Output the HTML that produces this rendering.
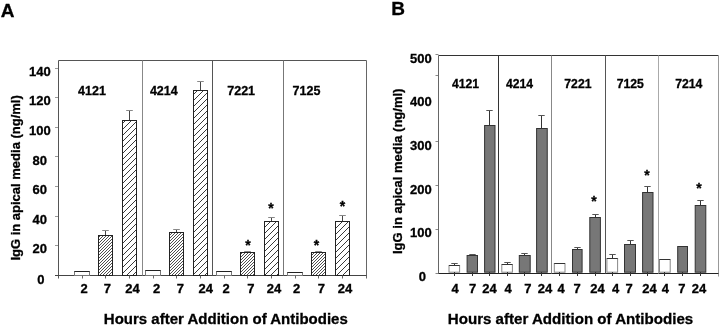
<!DOCTYPE html>
<html><head><meta charset="utf-8"><style>
html,body{margin:0;padding:0;background:#fff;width:720px;height:325px;overflow:hidden}
svg{display:block;will-change:transform}
text{font-family:'Liberation Sans',sans-serif;font-weight:bold;fill:#000;stroke:#000;stroke-width:0.3px}
</style></head><body>
<svg width="720" height="325" viewBox="0 0 720 325">
<defs>
<pattern id="hd" width="3" height="3" patternUnits="userSpaceOnUse">
<path d="M-1,1 L1,-1 M0,3 L3,0 M2,4 L4,2" stroke="#222" stroke-width="0.8"/>
</pattern>
<pattern id="hs" width="6" height="6" patternUnits="userSpaceOnUse">
<path d="M-1.5,1.5 L1.5,-1.5 M0,6 L6,0 M4.5,7.5 L7.5,4.5" stroke="#222" stroke-width="0.9"/>
</pattern>
</defs>
<rect width="720" height="325" fill="#fff"/>
<text x="7.5" y="17.4" font-size="19" text-anchor="middle" >A</text>
<line x1="55" y1="275.5" x2="58.5" y2="275.5" stroke="#999" stroke-width="1"/>
<text x="40.8" y="283.5" font-size="13" text-anchor="middle" >0</text>
<line x1="55" y1="245.5" x2="58.5" y2="245.5" stroke="#999" stroke-width="1"/>
<text x="39.8" y="253.4" font-size="13" text-anchor="middle" >20</text>
<line x1="55" y1="216.5" x2="58.5" y2="216.5" stroke="#999" stroke-width="1"/>
<text x="39.8" y="223.8" font-size="13" text-anchor="middle" >40</text>
<line x1="55" y1="186.5" x2="58.5" y2="186.5" stroke="#999" stroke-width="1"/>
<text x="39.8" y="194.2" font-size="13" text-anchor="middle" >60</text>
<line x1="55" y1="156.5" x2="58.5" y2="156.5" stroke="#999" stroke-width="1"/>
<text x="39.8" y="164.6" font-size="13" text-anchor="middle" >80</text>
<line x1="55" y1="127.5" x2="58.5" y2="127.5" stroke="#999" stroke-width="1"/>
<text x="39.8" y="135.0" font-size="13" text-anchor="middle" >100</text>
<line x1="55" y1="97.5" x2="58.5" y2="97.5" stroke="#999" stroke-width="1"/>
<text x="39.8" y="105.4" font-size="13" text-anchor="middle" >120</text>
<line x1="55" y1="68.5" x2="58.5" y2="68.5" stroke="#999" stroke-width="1"/>
<text x="39.8" y="75.8" font-size="13" text-anchor="middle" >140</text>
<line x1="58.5" y1="60.5" x2="366.5" y2="60.5" stroke="#555" stroke-width="1"/>
<line x1="58.5" y1="60.5" x2="58.5" y2="278.5" stroke="#555" stroke-width="1"/>
<line x1="366.5" y1="60.5" x2="366.5" y2="278.5" stroke="#666" stroke-width="1"/>
<line x1="55" y1="275.5" x2="366.5" y2="275.5" stroke="#444" stroke-width="1"/>
<line x1="142.5" y1="60.5" x2="142.5" y2="275.5" stroke="#888" stroke-width="1"/>
<line x1="212.5" y1="60.5" x2="212.5" y2="275.5" stroke="#555" stroke-width="1"/>
<line x1="283.5" y1="60.5" x2="283.5" y2="275.5" stroke="#777" stroke-width="1"/>
<text x="91.95" y="95.2" font-size="12.5" text-anchor="middle" >4121</text>
<text x="163.8" y="95.2" font-size="12.5" text-anchor="middle" >4214</text>
<text x="241.15" y="95.2" font-size="12.5" text-anchor="middle" >7221</text>
<text x="306.5" y="95.2" font-size="12.5" text-anchor="middle" >7125</text>
<rect x="74.5" y="271.5" width="15.0" height="4.0" fill="#fff" stroke="#777" stroke-width="1"/>
<line x1="74.5" y1="271.5" x2="89.5" y2="271.5" stroke="#222" stroke-width="1"/>
<line x1="82.5" y1="275.5" x2="82.5" y2="278.5" stroke="#666" stroke-width="1"/>
<line x1="105.5" y1="230.5" x2="105.5" y2="235.5" stroke="#444" stroke-width="1"/>
<line x1="102.2" y1="230.5" x2="108.8" y2="230.5" stroke="#888" stroke-width="1"/>
<rect x="98.5" y="235.5" width="14.0" height="40.0" fill="url(#hd)" stroke="#222" stroke-width="1"/>
<line x1="105.5" y1="275.5" x2="105.5" y2="278.5" stroke="#666" stroke-width="1"/>
<line x1="129.5" y1="110.5" x2="129.5" y2="120.5" stroke="#444" stroke-width="1"/>
<line x1="126.2" y1="110.5" x2="132.8" y2="110.5" stroke="#888" stroke-width="1"/>
<rect x="122.5" y="120.5" width="14.0" height="155.0" fill="url(#hs)" stroke="#222" stroke-width="1"/>
<line x1="129.5" y1="275.5" x2="129.5" y2="278.5" stroke="#666" stroke-width="1"/>
<rect x="145.5" y="270.5" width="15.0" height="5.0" fill="#fff" stroke="#777" stroke-width="1"/>
<line x1="145.5" y1="270.5" x2="160.5" y2="270.5" stroke="#222" stroke-width="1"/>
<line x1="153.5" y1="275.5" x2="153.5" y2="278.5" stroke="#666" stroke-width="1"/>
<line x1="176.5" y1="229.5" x2="176.5" y2="232.5" stroke="#444" stroke-width="1"/>
<line x1="173.2" y1="229.5" x2="179.8" y2="229.5" stroke="#888" stroke-width="1"/>
<rect x="169.5" y="232.5" width="14.0" height="43.0" fill="url(#hd)" stroke="#222" stroke-width="1"/>
<line x1="176.5" y1="275.5" x2="176.5" y2="278.5" stroke="#666" stroke-width="1"/>
<line x1="200.5" y1="81.5" x2="200.5" y2="90.5" stroke="#444" stroke-width="1"/>
<line x1="197.2" y1="81.5" x2="203.8" y2="81.5" stroke="#888" stroke-width="1"/>
<rect x="193.5" y="90.5" width="14.0" height="185.0" fill="url(#hs)" stroke="#222" stroke-width="1"/>
<line x1="200.5" y1="275.5" x2="200.5" y2="278.5" stroke="#666" stroke-width="1"/>
<rect x="216.5" y="271.5" width="15.0" height="4.0" fill="#fff" stroke="#777" stroke-width="1"/>
<line x1="216.5" y1="271.5" x2="231.5" y2="271.5" stroke="#222" stroke-width="1"/>
<line x1="224.5" y1="275.5" x2="224.5" y2="278.5" stroke="#666" stroke-width="1"/>
<line x1="247.5" y1="251.5" x2="247.5" y2="252.5" stroke="#444" stroke-width="1"/>
<line x1="244.2" y1="251.5" x2="250.8" y2="251.5" stroke="#888" stroke-width="1"/>
<rect x="240.5" y="252.5" width="14.0" height="23.0" fill="url(#hd)" stroke="#222" stroke-width="1"/>
<line x1="247.5" y1="275.5" x2="247.5" y2="278.5" stroke="#666" stroke-width="1"/>
<line x1="271.5" y1="217.5" x2="271.5" y2="221.5" stroke="#444" stroke-width="1"/>
<line x1="268.2" y1="217.5" x2="274.8" y2="217.5" stroke="#888" stroke-width="1"/>
<rect x="264.5" y="221.5" width="14.0" height="54.0" fill="url(#hs)" stroke="#222" stroke-width="1"/>
<line x1="271.5" y1="275.5" x2="271.5" y2="278.5" stroke="#666" stroke-width="1"/>
<rect x="287.5" y="272.5" width="15.0" height="3.0" fill="#fff" stroke="#777" stroke-width="1"/>
<line x1="287.5" y1="272.5" x2="302.5" y2="272.5" stroke="#222" stroke-width="1"/>
<line x1="295.5" y1="275.5" x2="295.5" y2="278.5" stroke="#666" stroke-width="1"/>
<line x1="318.5" y1="251.5" x2="318.5" y2="252.5" stroke="#444" stroke-width="1"/>
<line x1="315.2" y1="251.5" x2="321.8" y2="251.5" stroke="#888" stroke-width="1"/>
<rect x="311.5" y="252.5" width="14.0" height="23.0" fill="url(#hd)" stroke="#222" stroke-width="1"/>
<line x1="318.5" y1="275.5" x2="318.5" y2="278.5" stroke="#666" stroke-width="1"/>
<line x1="342.5" y1="215.5" x2="342.5" y2="221.5" stroke="#444" stroke-width="1"/>
<line x1="339.2" y1="215.5" x2="345.8" y2="215.5" stroke="#888" stroke-width="1"/>
<rect x="335.5" y="221.5" width="14.0" height="54.0" fill="url(#hs)" stroke="#222" stroke-width="1"/>
<line x1="342.5" y1="275.5" x2="342.5" y2="278.5" stroke="#666" stroke-width="1"/>
<text x="247.9" y="250.4" font-size="14" text-anchor="middle" >*</text>
<text x="271.0" y="213.0" font-size="14" text-anchor="middle" >*</text>
<text x="316.5" y="250.4" font-size="14" text-anchor="middle" >*</text>
<text x="342.4" y="211.3" font-size="14" text-anchor="middle" >*</text>
<text x="84" y="292.8" font-size="13" text-anchor="middle" >2</text>
<text x="107.3" y="292.8" font-size="13" text-anchor="middle" >7</text>
<text x="132.6" y="292.8" font-size="13" text-anchor="middle" >24</text>
<text x="156.5" y="292.8" font-size="13" text-anchor="middle" >2</text>
<text x="180.4" y="292.8" font-size="13" text-anchor="middle" >7</text>
<text x="205.7" y="292.8" font-size="13" text-anchor="middle" >24</text>
<text x="226" y="292.8" font-size="13" text-anchor="middle" >2</text>
<text x="250.9" y="292.8" font-size="13" text-anchor="middle" >7</text>
<text x="274.1" y="292.8" font-size="13" text-anchor="middle" >24</text>
<text x="296.5" y="292.8" font-size="13" text-anchor="middle" >2</text>
<text x="321.3" y="292.8" font-size="13" text-anchor="middle" >7</text>
<text x="345" y="292.8" font-size="13" text-anchor="middle" >24</text>
<text x="225.8" y="324" font-size="15" text-anchor="middle" >Hours after Addition of Antibodies</text>
<text x="0" y="0" font-size="13" text-anchor="middle" transform="translate(20.4,177.9) rotate(-90)">IgG in apical media (ng/ml)</text>
<text x="398" y="14.8" font-size="19" text-anchor="middle" >B</text>
<line x1="435.5" y1="273.5" x2="438.5" y2="273.5" stroke="#888" stroke-width="1"/>
<text x="422.3" y="280.8" font-size="13" text-anchor="middle" >0</text>
<line x1="435.5" y1="229.5" x2="438.5" y2="229.5" stroke="#888" stroke-width="1"/>
<text x="420.8" y="237.03" font-size="13" text-anchor="middle" >100</text>
<line x1="435.5" y1="185.5" x2="438.5" y2="185.5" stroke="#888" stroke-width="1"/>
<text x="420.8" y="193.76" font-size="13" text-anchor="middle" >200</text>
<line x1="435.5" y1="141.5" x2="438.5" y2="141.5" stroke="#888" stroke-width="1"/>
<text x="420.8" y="149.99" font-size="13" text-anchor="middle" >300</text>
<text x="420.8" y="106.22" font-size="13" text-anchor="middle" >400</text>
<line x1="435.5" y1="54.5" x2="438.5" y2="54.5" stroke="#888" stroke-width="1"/>
<text x="420.8" y="63.35" font-size="13" text-anchor="middle" >500</text>
<line x1="435.5" y1="75.5" x2="438.5" y2="75.5" stroke="#888" stroke-width="1"/>
<line x1="438.5" y1="55.5" x2="718.5" y2="55.5" stroke="#333" stroke-width="1"/>
<line x1="438.5" y1="55.5" x2="438.5" y2="273.5" stroke="#666" stroke-width="1"/>
<line x1="718.5" y1="55.5" x2="718.5" y2="276.5" stroke="#999" stroke-width="1"/>
<line x1="438.5" y1="273.5" x2="718.5" y2="273.5" stroke="#222" stroke-width="1"/>
<line x1="498.5" y1="55.5" x2="498.5" y2="273.5" stroke="#333" stroke-width="1"/>
<line x1="551.5" y1="55.5" x2="551.5" y2="273.5" stroke="#888" stroke-width="1"/>
<line x1="605.5" y1="55.5" x2="605.5" y2="273.5" stroke="#555" stroke-width="1"/>
<line x1="658.5" y1="55.5" x2="658.5" y2="273.5" stroke="#aaa" stroke-width="1"/>
<text x="465.5" y="88.1" font-size="12.2" text-anchor="middle" >4121</text>
<text x="519.6" y="88.1" font-size="12.2" text-anchor="middle" >4214</text>
<text x="577.9" y="88.1" font-size="12.2" text-anchor="middle" >7221</text>
<text x="630.35" y="88.1" font-size="12.2" text-anchor="middle" >7125</text>
<text x="688.75" y="88.1" font-size="12.2" text-anchor="middle" >7214</text>
<line x1="454.5" y1="263.5" x2="454.5" y2="265.5" stroke="#333" stroke-width="1"/>
<line x1="451.3" y1="263.5" x2="457.7" y2="263.5" stroke="#555" stroke-width="1"/>
<rect x="449.0" y="265.5" width="10.6" height="6.7" fill="#fff" stroke="#888" stroke-width="1"/>
<line x1="449.0" y1="265.5" x2="459.6" y2="265.5" stroke="#333" stroke-width="1"/>
<line x1="454.5" y1="272" x2="454.5" y2="276.0" stroke="#333" stroke-width="1"/>
<line x1="472.5" y1="254.5" x2="472.5" y2="255.5" stroke="#333" stroke-width="1"/>
<line x1="469.3" y1="254.5" x2="475.7" y2="254.5" stroke="#555" stroke-width="1"/>
<rect x="467.1" y="255.5" width="10.4" height="16.7" fill="#777" stroke="#333" stroke-width="1"/>
<line x1="472.5" y1="272" x2="472.5" y2="276.0" stroke="#333" stroke-width="1"/>
<line x1="489.5" y1="110.5" x2="489.5" y2="125.5" stroke="#333" stroke-width="1"/>
<line x1="486.3" y1="110.5" x2="492.7" y2="110.5" stroke="#555" stroke-width="1"/>
<rect x="484.6" y="125.5" width="10.4" height="146.7" fill="#777" stroke="#333" stroke-width="1"/>
<line x1="489.5" y1="272" x2="489.5" y2="276.0" stroke="#333" stroke-width="1"/>
<line x1="507.5" y1="262.5" x2="507.5" y2="264.5" stroke="#333" stroke-width="1"/>
<line x1="504.3" y1="262.5" x2="510.7" y2="262.5" stroke="#555" stroke-width="1"/>
<rect x="501.8" y="264.5" width="10.6" height="7.7" fill="#fff" stroke="#888" stroke-width="1"/>
<line x1="501.8" y1="264.5" x2="512.4" y2="264.5" stroke="#333" stroke-width="1"/>
<line x1="507.5" y1="272" x2="507.5" y2="276.0" stroke="#333" stroke-width="1"/>
<line x1="524.5" y1="253.5" x2="524.5" y2="255.5" stroke="#333" stroke-width="1"/>
<line x1="521.3" y1="253.5" x2="527.7" y2="253.5" stroke="#555" stroke-width="1"/>
<rect x="519.3" y="255.5" width="10.9" height="16.7" fill="#777" stroke="#333" stroke-width="1"/>
<line x1="524.5" y1="272" x2="524.5" y2="276.0" stroke="#333" stroke-width="1"/>
<line x1="541.5" y1="115.5" x2="541.5" y2="128.5" stroke="#333" stroke-width="1"/>
<line x1="538.3" y1="115.5" x2="544.7" y2="115.5" stroke="#555" stroke-width="1"/>
<rect x="536.6" y="128.5" width="10.65" height="143.7" fill="#777" stroke="#333" stroke-width="1"/>
<line x1="541.5" y1="272" x2="541.5" y2="276.0" stroke="#333" stroke-width="1"/>
<rect x="554.3" y="263.5" width="10.7" height="8.7" fill="#fff" stroke="#888" stroke-width="1"/>
<line x1="554.3" y1="263.5" x2="565.0" y2="263.5" stroke="#333" stroke-width="1"/>
<line x1="559.5" y1="272" x2="559.5" y2="276.0" stroke="#333" stroke-width="1"/>
<line x1="577.5" y1="247.5" x2="577.5" y2="249.5" stroke="#333" stroke-width="1"/>
<line x1="574.3" y1="247.5" x2="580.7" y2="247.5" stroke="#555" stroke-width="1"/>
<rect x="572.5" y="249.5" width="9.6" height="22.7" fill="#777" stroke="#333" stroke-width="1"/>
<line x1="577.5" y1="272" x2="577.5" y2="276.0" stroke="#333" stroke-width="1"/>
<line x1="595.5" y1="214.5" x2="595.5" y2="217.5" stroke="#333" stroke-width="1"/>
<line x1="592.3" y1="214.5" x2="598.7" y2="214.5" stroke="#555" stroke-width="1"/>
<rect x="589.8" y="217.5" width="10.6" height="54.7" fill="#777" stroke="#333" stroke-width="1"/>
<line x1="595.5" y1="272" x2="595.5" y2="276.0" stroke="#333" stroke-width="1"/>
<line x1="612.5" y1="254.5" x2="612.5" y2="258.5" stroke="#333" stroke-width="1"/>
<line x1="609.3" y1="254.5" x2="615.7" y2="254.5" stroke="#555" stroke-width="1"/>
<rect x="606.9" y="258.5" width="10.7" height="13.7" fill="#fff" stroke="#888" stroke-width="1"/>
<line x1="606.9" y1="258.5" x2="617.6" y2="258.5" stroke="#333" stroke-width="1"/>
<line x1="612.5" y1="272" x2="612.5" y2="276.0" stroke="#333" stroke-width="1"/>
<line x1="630.5" y1="240.5" x2="630.5" y2="244.5" stroke="#333" stroke-width="1"/>
<line x1="627.3" y1="240.5" x2="633.7" y2="240.5" stroke="#555" stroke-width="1"/>
<rect x="624.5" y="244.5" width="11.0" height="27.7" fill="#777" stroke="#333" stroke-width="1"/>
<line x1="630.5" y1="272" x2="630.5" y2="276.0" stroke="#333" stroke-width="1"/>
<line x1="647.5" y1="186.5" x2="647.5" y2="192.5" stroke="#333" stroke-width="1"/>
<line x1="644.3" y1="186.5" x2="650.7" y2="186.5" stroke="#555" stroke-width="1"/>
<rect x="642.6" y="192.5" width="10.4" height="79.7" fill="#777" stroke="#333" stroke-width="1"/>
<line x1="647.5" y1="272" x2="647.5" y2="276.0" stroke="#333" stroke-width="1"/>
<rect x="659.5" y="259.5" width="10.7" height="12.7" fill="#fff" stroke="#888" stroke-width="1"/>
<line x1="659.5" y1="259.5" x2="670.2" y2="259.5" stroke="#333" stroke-width="1"/>
<line x1="664.5" y1="272" x2="664.5" y2="276.0" stroke="#333" stroke-width="1"/>
<rect x="677.7" y="246.5" width="9.8" height="25.7" fill="#777" stroke="#333" stroke-width="1"/>
<line x1="682.5" y1="272" x2="682.5" y2="276.0" stroke="#333" stroke-width="1"/>
<line x1="700.5" y1="200.5" x2="700.5" y2="205.5" stroke="#333" stroke-width="1"/>
<line x1="697.3" y1="200.5" x2="703.7" y2="200.5" stroke="#555" stroke-width="1"/>
<rect x="695.2" y="205.5" width="10.6" height="66.7" fill="#777" stroke="#333" stroke-width="1"/>
<line x1="700.5" y1="272" x2="700.5" y2="276.0" stroke="#333" stroke-width="1"/>
<text x="593.9" y="206.4" font-size="14" text-anchor="middle" >*</text>
<text x="646.9" y="180.1" font-size="14" text-anchor="middle" >*</text>
<text x="698.9" y="193.1" font-size="14" text-anchor="middle" >*</text>
<text x="455" y="292.9" font-size="13" text-anchor="middle" >4</text>
<text x="472.5" y="292.9" font-size="13" text-anchor="middle" >7</text>
<text x="489.6" y="292.9" font-size="13" text-anchor="middle" >24</text>
<text x="508.2" y="292.9" font-size="13" text-anchor="middle" >4</text>
<text x="527.8" y="292.9" font-size="13" text-anchor="middle" >7</text>
<text x="545" y="292.9" font-size="13" text-anchor="middle" >24</text>
<text x="561.2" y="292.9" font-size="13" text-anchor="middle" >4</text>
<text x="577.2" y="292.9" font-size="13" text-anchor="middle" >7</text>
<text x="597.6" y="292.9" font-size="13" text-anchor="middle" >24</text>
<text x="615.7" y="292.9" font-size="13" text-anchor="middle" >4</text>
<text x="629" y="292.9" font-size="13" text-anchor="middle" >7</text>
<text x="649.5" y="292.9" font-size="13" text-anchor="middle" >24</text>
<text x="665.3" y="292.9" font-size="13" text-anchor="middle" >4</text>
<text x="681.8" y="292.9" font-size="13" text-anchor="middle" >7</text>
<text x="699" y="292.9" font-size="13" text-anchor="middle" >24</text>
<text x="570.5" y="323.8" font-size="15.1" text-anchor="middle" >Hours after Addition of Antibodies</text>
<text x="0" y="0" font-size="13" text-anchor="middle" transform="translate(401.6,171.3) rotate(-90)">IgG in apical media (ng/ml)</text>
</svg>
</body></html>
